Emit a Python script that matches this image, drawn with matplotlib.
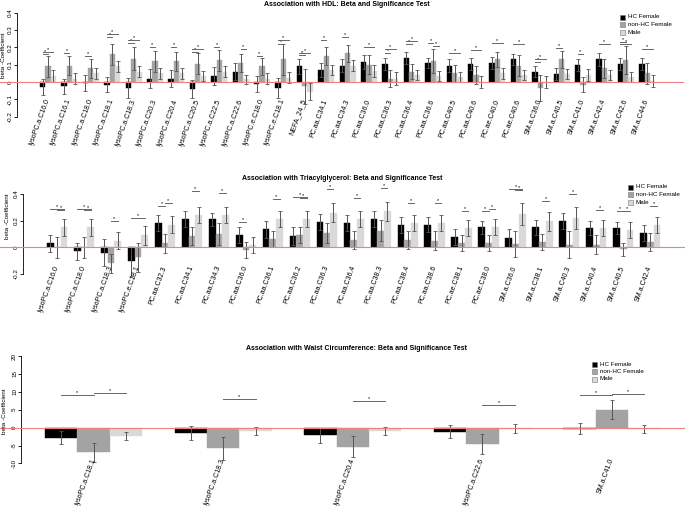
import matplotlib

matplotlib.use("Agg")
import matplotlib.pyplot as plt
from matplotlib.patches import Rectangle

plt.rcParams['font.family'] = ['Liberation Sans', 'DejaVu Sans']

W, H = 685, 508
COLORS = ["#000000", "#a3a3a3", "#d9d9d9"]
ERR_COL = "#555555"
RED = "#f08080"
GROUPS = ["HC Female", "non-HC Female", "Male"]

# ---- HDL ----
hdl_labels = ["lysoPC.a.C16.0", "lysoPC.a.C16.1", "lysoPC.a.C18.0", "lysoPC.a.C18.1",
              "lysoPC.a.C18.3", "lysoPC.a.C20.3", "lysoPC.a.C20.4", "lysoPC.a.C20.5",
              "lysoPC.a.C22.5", "lysoPC.a.C22.6", "lysoPC.e.C18.0", "lysoPC.e.C18.1",
              "NEFA_24_5", "PC.aa.C34.1", "PC.aa.C34.3", "PC.aa.C36.0", "PC.aa.C36.3",
              "PC.aa.C36.4", "PC.aa.C36.6", "PC.aa.C40.5", "PC.aa.C40.6", "PC.ae.C40.0",
              "PC.ae.C40.6", "SM.a.C36.0", "SM.a.C40.5", "SM.a.C41.0", "SM.a.C42.4",
              "SM.a.C42.6", "SM.a.C44.6"]
hdl_hc = [-0.03, -0.025, -0.005, -0.015, -0.035, 0.02, 0.02, -0.04, 0.035, 0.06, -0.01,
          -0.035, 0.09, 0.07, 0.095, 0.115, 0.105, 0.14, 0.11, 0.095, 0.105, 0.11, 0.13,
          0.06, 0.045, 0.1, 0.13, 0.105, 0.105]
hdl_nonhc = [0.09, 0.095, 0.08, 0.16, 0.135, 0.12, 0.12, 0.105, 0.125, 0.11, 0.09, 0.13,
             -0.025, 0.15, 0.165, 0.10, 0.02, 0.06, 0.12, 0.05, 0.04, 0.13, 0.095, -0.035,
             0.13, -0.015, 0.08, 0.125, 0.05]
hdl_male = [0.035, 0.02, 0.05, 0.09, 0.06, 0.05, 0.05, 0.035, 0.06, 0.015, 0.02, 0.025,
            -0.055, 0.07, 0.095, 0.065, 0.02, 0.04, 0.035, 0.03, 0.0, 0.05, 0.04, 0.0,
            0.045, 0.04, 0.04, 0.03, 0.005]
hdl_hc_err = [0.045, 0.045, 0.045, 0.045, 0.06, 0.055, 0.05, 0.05, 0.05, 0.05, 0.045, 0.06,
              0.045, 0.04, 0.035, 0.04, 0.035, 0.035, 0.03, 0.035, 0.035, 0.035, 0.03,
              0.03, 0.035, 0.035, 0.035, 0.035, 0.035]
hdl_nonhc_err = [0.06, 0.055, 0.055, 0.06, 0.065, 0.06, 0.055, 0.06, 0.06, 0.05, 0.05,
                 0.09, 0.1, 0.05, 0.05, 0.055, 0.05, 0.045, 0.07, 0.05, 0.05, 0.045, 0.06,
                 0.075, 0.05, 0.045, 0.055, 0.08, 0.06]
hdl_male_err = [0.035, 0.03, 0.03, 0.03, 0.03, 0.03, 0.03, 0.03, 0.03, 0.025, 0.03, 0.03,
                0.05, 0.03, 0.03, 0.035, 0.035, 0.03, 0.03, 0.03, 0.035, 0.03, 0.03, 0.035,
                0.03, 0.035, 0.03, 0.03, 0.035]
# (group, bar_a, bar_b, height)
hdl_sig = [(0, 0, 1, 0.16), (0, 0, 2, 0.175), (1, 0, 1, 0.165), (2, 0, 1, 0.15),
           (3, 0, 1, 0.26), (3, 0, 2, 0.275), (4, 0, 1, 0.225), (4, 0, 2, 0.24),
           (5, 0, 1, 0.2), (6, 0, 1, 0.2), (7, 0, 1, 0.175), (7, 0, 2, 0.19),
           (8, 0, 1, 0.2), (9, 1, 2, 0.19), (10, 0, 1, 0.15), (11, 0, 1, 0.22),
           (11, 0, 2, 0.24), (12, 0, 1, 0.155), (12, 0, 2, 0.17), (13, 0, 1, 0.24),
           (14, 0, 1, 0.26), (15, 0, 2, 0.2), (16, 0, 1, 0.17), (16, 0, 2, 0.19),
           (17, 0, 1, 0.22), (17, 0, 2, 0.235), (18, 0, 1, 0.225), (18, 1, 2, 0.21),
           (19, 0, 2, 0.17), (20, 0, 2, 0.185), (21, 0, 2, 0.225), (22, 0, 2, 0.22),
           (23, 0, 1, 0.115), (23, 0, 2, 0.135), (24, 0, 1, 0.195), (25, 0, 1, 0.16),
           (26, 0, 2, 0.22), (27, 0, 1, 0.23), (27, 0, 2, 0.22), (28, 0, 2, 0.19)]

# ---- Triacylglycerol ----
tg_labels = ["lysoPC.a.C16.0", "lysoPC.a.C18.0", "lysoPC.a.C18.3", "lysoPC.e.C18.1",
             "PC.aa.C32.3", "PC.aa.C34.1", "PC.aa.C34.3", "PC.aa.C36.0", "PC.aa.C36.1",
             "PC.aa.C36.2", "PC.aa.C36.3", "PC.aa.C36.4", "PC.aa.C38.3", "PC.aa.C38.4",
             "PC.aa.C38.6", "PC.ae.C38.1", "PC.ae.C38.0", "SM.a.C36.0", "SM.a.C38.1",
             "SM.a.C40.3", "SM.a.C40.4", "SM.a.C40.5", "SM.a.C42.4"]
tg_hc = [0.03, -0.03, -0.04, -0.105, 0.18, 0.21, 0.21, 0.095, 0.135, 0.085, 0.19, 0.185,
         0.215, 0.165, 0.17, 0.08, 0.15, 0.07, 0.15, 0.2, 0.145, 0.145, 0.105]
tg_nonhc = [0.0, 0.0, -0.12, -0.075, 0.03, 0.085, 0.1, -0.02, 0.065, 0.09, 0.105, 0.055,
            0.125, 0.055, 0.05, 0.03, 0.03, 0.025, 0.04, 0.02, 0.02, -0.015, 0.04]
tg_male = [0.15, 0.15, 0.05, 0.09, 0.17, 0.245, 0.24, 0.02, 0.21, 0.21, 0.26, 0.21, 0.27,
           0.185, 0.185, 0.145, 0.155, 0.25, 0.195, 0.22, 0.145, 0.13, 0.17]
tg_hc_err = [0.065, 0.065, 0.1, 0.11, 0.06, 0.06, 0.05, 0.06, 0.065, 0.065, 0.06, 0.06,
             0.06, 0.06, 0.055, 0.06, 0.05, 0.065, 0.055, 0.06, 0.05, 0.045, 0.06]
tg_nonhc_err = [0.08, 0.08, 0.07, 0.11, 0.07, 0.07, 0.08, 0.06, 0.06, 0.06, 0.075, 0.07,
                0.08, 0.07, 0.07, 0.06, 0.06, 0.1, 0.06, 0.1, 0.07, 0.05, 0.07]
tg_male_err = [0.065, 0.065, 0.065, 0.07, 0.065, 0.06, 0.06, 0.06, 0.06, 0.06, 0.07,
               0.06, 0.07, 0.06, 0.06, 0.06, 0.06, 0.08, 0.07, 0.08, 0.06, 0.06, 0.06]
tg_sig = [(0, 0, 2, 0.29), (0, 1, 2, 0.28), (1, 0, 2, 0.29), (1, 1, 2, 0.28),
          (2, 1, 2, 0.2), (3, 0, 2, 0.22), (4, 0, 1, 0.31), (4, 1, 2, 0.33),
          (5, 1, 2, 0.42), (6, 1, 2, 0.405), (7, 0, 1, 0.19), (8, 1, 2, 0.36),
          (9, 0, 2, 0.375), (9, 1, 2, 0.37), (10, 1, 2, 0.44), (11, 1, 2, 0.37),
          (12, 1, 2, 0.445), (13, 1, 2, 0.33), (14, 1, 2, 0.33), (15, 1, 2, 0.27),
          (16, 0, 1, 0.27), (16, 1, 2, 0.29), (17, 0, 2, 0.435), (17, 1, 2, 0.43),
          (18, 1, 2, 0.35), (19, 1, 2, 0.4), (20, 1, 2, 0.28), (21, 0, 1, 0.27),
          (21, 1, 2, 0.275), (22, 1, 2, 0.31)]

# ---- Waist circumference ----
wc_labels = ["lysoPC.a.C18.1", "lysoPC.a.C18.3", "lysoPC.a.C20.4", "lysoPC.a.C22.6",
             "SM.a.C41.0"]
wc_hc = [-2.8, -1.6, -2.2, -1.1, -0.3]
wc_nonhc = [-6.9, -5.8, -5.3, -4.5, 5.0]
wc_male = [-2.4, -1.0, -0.9, -0.3, -0.4]
wc_hc_err = [1.8, 2.0, 2.0, 1.8, 1.5]
wc_nonhc_err = [2.6, 3.2, 3.0, 2.8, 2.6]
wc_male_err = [1.1, 1.2, 1.2, 1.2, 1.1]
wc_sig = [(0, 0, 1, 9.2), (0, 1, 2, 9.7), (1, 1, 2, 8.0), (2, 1, 2, 7.3),
          (3, 1, 2, 6.4), (4, 0, 1, 9.2), (4, 1, 2, 9.5)]


def px_axes(fig, left, right, top, bottom):
    return fig.add_axes([left / W, 1 - bottom / H, (right - left) / W, (bottom - top) / H])


def draw_panel(fig, box, xlim, ylim, yticks, labels, series, errs, sig, label_y,
               title, title_xy, legend_xy, ylab_xy, fs=5.0):
    ax = px_axes(fig, *box)
    ax.set_xlim(*xlim)
    ax.set_ylim(*ylim)
    for k in range(3):
        xs = [1 + 4 * g + k + 0.5 for g in range(len(labels))]
        ax.bar(xs, series[k], width=1.0, color=COLORS[k], edgecolor=COLORS[k],
               linewidth=0.3, clip_on=False, zorder=2)
        ax.errorbar(xs, series[k], yerr=errs[k], fmt="none", ecolor=ERR_COL,
                    elinewidth=0.7, capsize=1.2, capthick=0.6, clip_on=False, zorder=3)
    ax.axhline(0, xmin=-box[0] / (box[1] - box[0]), xmax=1, color=RED, lw=0.8,
               clip_on=False, zorder=4)
    for g, a, b, h in sig:
        xa = 1 + 4 * g + a + 0.5
        xb = 1 + 4 * g + b + 0.5
        ax.plot([xa, xb], [h, h], color="#666666", lw=0.7, clip_on=False, zorder=3)
        ax.text((xa + xb) / 2, h, "*", ha="center", va="bottom", fontsize=4,
                clip_on=False)
    for g, lab in enumerate(labels):
        ax.text(1 + 4 * g + 1.5, label_y, lab, rotation=70, rotation_mode="anchor",
                ha="right", va="center", fontsize=fs, clip_on=False)
    for s in ["top", "right", "bottom"]:
        ax.spines[s].set_visible(False)
    ax.spines["left"].set_linewidth(0.6)
    ax.set_xticks([])
    ax.set_yticks(yticks)
    ax.set_yticklabels([f"{t:g}" for t in yticks], rotation=90, va="center",
                       fontsize=4.5)
    ax.tick_params(axis="y", length=2, width=0.6, pad=0.8)
    fig.text(ylab_xy[0] / W, 1 - ylab_xy[1] / H, "beta -Coefficient", rotation=90,
             ha="center", va="center", fontsize=4.5)
    fig.text(title_xy[0] / W, 1 - title_xy[1] / H, title, ha="center", va="center",
             fontsize=5, fontweight="bold")
    lx, ly = legend_xy
    for k, name in enumerate(GROUPS):
        y = ly + k * 7.5
        fig.patches.append(Rectangle((lx / W, 1 - (y + 2.5) / H), 5 / W, 5 / H,
                                     transform=fig.transFigure, facecolor=COLORS[k],
                                     edgecolor="#777777", linewidth=0.4))
        fig.text((lx + 8) / W, 1 - y / H, name, ha="left", va="center", fontsize=4.5)
    return ax


fig = plt.figure(figsize=(W / 100, H / 100), dpi=100)

# HDL panel: unit 5.35 px, origin 34.65 px
draw_panel(fig, (17, 683, 12.7, 116.7),
           ((17 - 34.65) / 5.35, (683 - 34.65) / 5.35), (-0.2, 0.4),
           [-0.2, -0.1, 0.0, 0.1, 0.2, 0.3, 0.4], hdl_labels,
           [hdl_hc, hdl_nonhc, hdl_male], [hdl_hc_err, hdl_nonhc_err, hdl_male_err],
           hdl_sig, -0.1, "Association with HDL: Beta and Significance Test",
           (347, 5), (620, 17), (4, 55))

# Triacylglycerol panel: unit 6.74 px, origin 40.3 px
draw_panel(fig, (23, 685, 194, 274),
           ((23 - 40.3) / 6.74, (685 - 40.3) / 6.74), (-0.2, 0.4),
           [-0.2, 0.0, 0.2, 0.4], tg_labels,
           [tg_hc, tg_nonhc, tg_male], [tg_hc_err, tg_nonhc_err, tg_male_err],
           tg_sig, -0.14, "Association with Triacylglycerol: Beta and Significance Test",
           (342, 178.5), (628, 187), (8, 216))

# Waist panel: unit 32.4 px, origin 12.6 px
draw_panel(fig, (21, 685, 356, 463.4),
           ((21 - 12.6) / 32.4, (685 - 12.6) / 32.4), (-10, 20),
           [-10, -5, 0, 5, 10, 15, 20], wc_labels,
           [wc_hc, wc_nonhc, wc_male], [wc_hc_err, wc_nonhc_err, wc_male_err],
           wc_sig, -8.6, "Association with Waist Circumference: Beta and Significance Test",
           (357, 349), (592, 364), (5, 411))

fig.savefig("out.png", dpi=100)
